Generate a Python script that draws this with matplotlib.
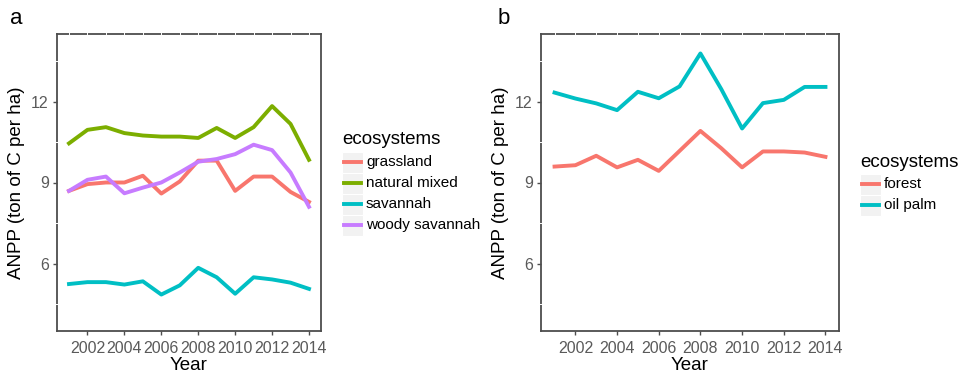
import matplotlib
matplotlib.use("Agg")
import matplotlib.pyplot as plt
from matplotlib.lines import Line2D
from matplotlib.patches import Rectangle

plt.rcParams['font.family'] = ['Liberation Sans', 'DejaVu Sans']

years = list(range(2001, 2015))

# panel a: natural ecosystems
grassland = [8.69, 8.94, 9.00, 9.00, 9.25, 8.59, 9.04, 9.81, 9.81, 8.69, 9.22, 9.22, 8.65, 8.28]
natural_mixed = [10.45, 10.95, 11.05, 10.83, 10.74, 10.70, 10.70, 10.65, 11.02, 10.65, 11.05, 11.83, 11.17, 9.84]
savannah = [5.24, 5.31, 5.31, 5.22, 5.34, 4.85, 5.19, 5.84, 5.49, 4.88, 5.49, 5.41, 5.29, 5.06]
woody_savannah = [8.69, 9.10, 9.22, 8.60, 8.81, 9.00, 9.37, 9.77, 9.87, 10.05, 10.40, 10.20, 9.37, 8.10]

# panel b: forest vs oil palm
forest = [9.59, 9.64, 9.99, 9.56, 9.84, 9.43, 10.17, 10.91, 10.27, 9.56, 10.15, 10.15, 10.11, 9.95]
oil_palm = [12.33, 12.11, 11.93, 11.68, 12.36, 12.12, 12.56, 13.78, 12.46, 11.00, 11.94, 12.06, 12.54, 12.54]

labels_a = ["grassland", "natural mixed", "savannah", "woody savannah"]
colors_a = ["#F8766D", "#7CAE00", "#00BFC4", "#C77CFF"]
labels_b = ["forest", "oil palm"]
colors_b = ["#F8766D", "#00BFC4"]

W, H = 958, 373
fig = plt.figure(figsize=(W / 100, H / 100), dpi=100)


def fx(x):
    return x / W


def fy(y):
    return 1 - y / H


def make_axes(left, right):
    ax = fig.add_axes([fx(left), fy(331), fx(right) - fx(left), fy(34) - fy(331)])
    ax.set_xlim(2000.35, 2014.65)
    ax.set_ylim(3.5, 14.5)
    ax.set_xticks(range(2002, 2015, 2))
    ax.set_yticks([6, 9, 12])
    for s in ax.spines.values():
        s.set_color("#4d4d4d")
        s.set_linewidth(1.3)
    ax.tick_params(colors="#4d4d4d", labelcolor="#5a5a5a", labelsize=11.5,
                   length=3, width=1, pad=3)
    ax.tick_params(axis="x", pad=4.5)
    ax.set_xlabel("Year", fontsize=13.5, labelpad=0.5)
    ax.set_ylabel("ANPP (ton of C per ha)", fontsize=13.5, labelpad=4)
    # white grid lines showing through the top and left border
    for yr in years:
        ax.plot([yr, yr], [14.42, 14.58], color="white", lw=0.7, clip_on=False, zorder=5)
    for v in [4.5, 7.5, 10.5, 13.5]:
        ax.plot([2000.30, 2000.40], [v, v], color="white", lw=0.7, clip_on=False, zorder=5)
    return ax


def legend(x, y, labels, colors):
    fig.text(fx(x), fy(y), "ecosystems", fontsize=13.5, va="center", ha="left")
    for i, (lab, col) in enumerate(zip(labels, colors)):
        cy = y + 22 + 21 * i
        fig.patches.append(Rectangle((fx(x), fy(cy + 10.5)), fx(21), 21 / H,
                                     transform=fig.transFigure, facecolor="#f2f2f2",
                                     edgecolor="white", lw=0.8))
        fig.lines.append(Line2D([fx(x + 2), fx(x + 19)], [fy(cy), fy(cy)],
                                transform=fig.transFigure, color=col, lw=2.8))
        fig.text(fx(x + 24), fy(cy), lab, fontsize=11, va="center", ha="left")


ax1 = make_axes(57, 321)
for vals, lab, col in zip([grassland, natural_mixed, savannah, woody_savannah], labels_a, colors_a):
    ax1.plot(years, vals, color=col, lw=2.8, label=lab, solid_joinstyle="round")
legend(342, 140, labels_a, colors_a)
fig.text(fx(10), fy(19), "a", fontsize=16, va="center", ha="left")

ax2 = make_axes(541, 839)
for vals, lab, col in zip([forest, oil_palm], labels_b, colors_b):
    ax2.plot(years, vals, color=col, lw=2.8, label=lab, solid_joinstyle="round")
legend(860, 162, labels_b, colors_b)
fig.text(fx(498), fy(19), "b", fontsize=16, va="center", ha="left")

fig.savefig("out.png", dpi=100)
